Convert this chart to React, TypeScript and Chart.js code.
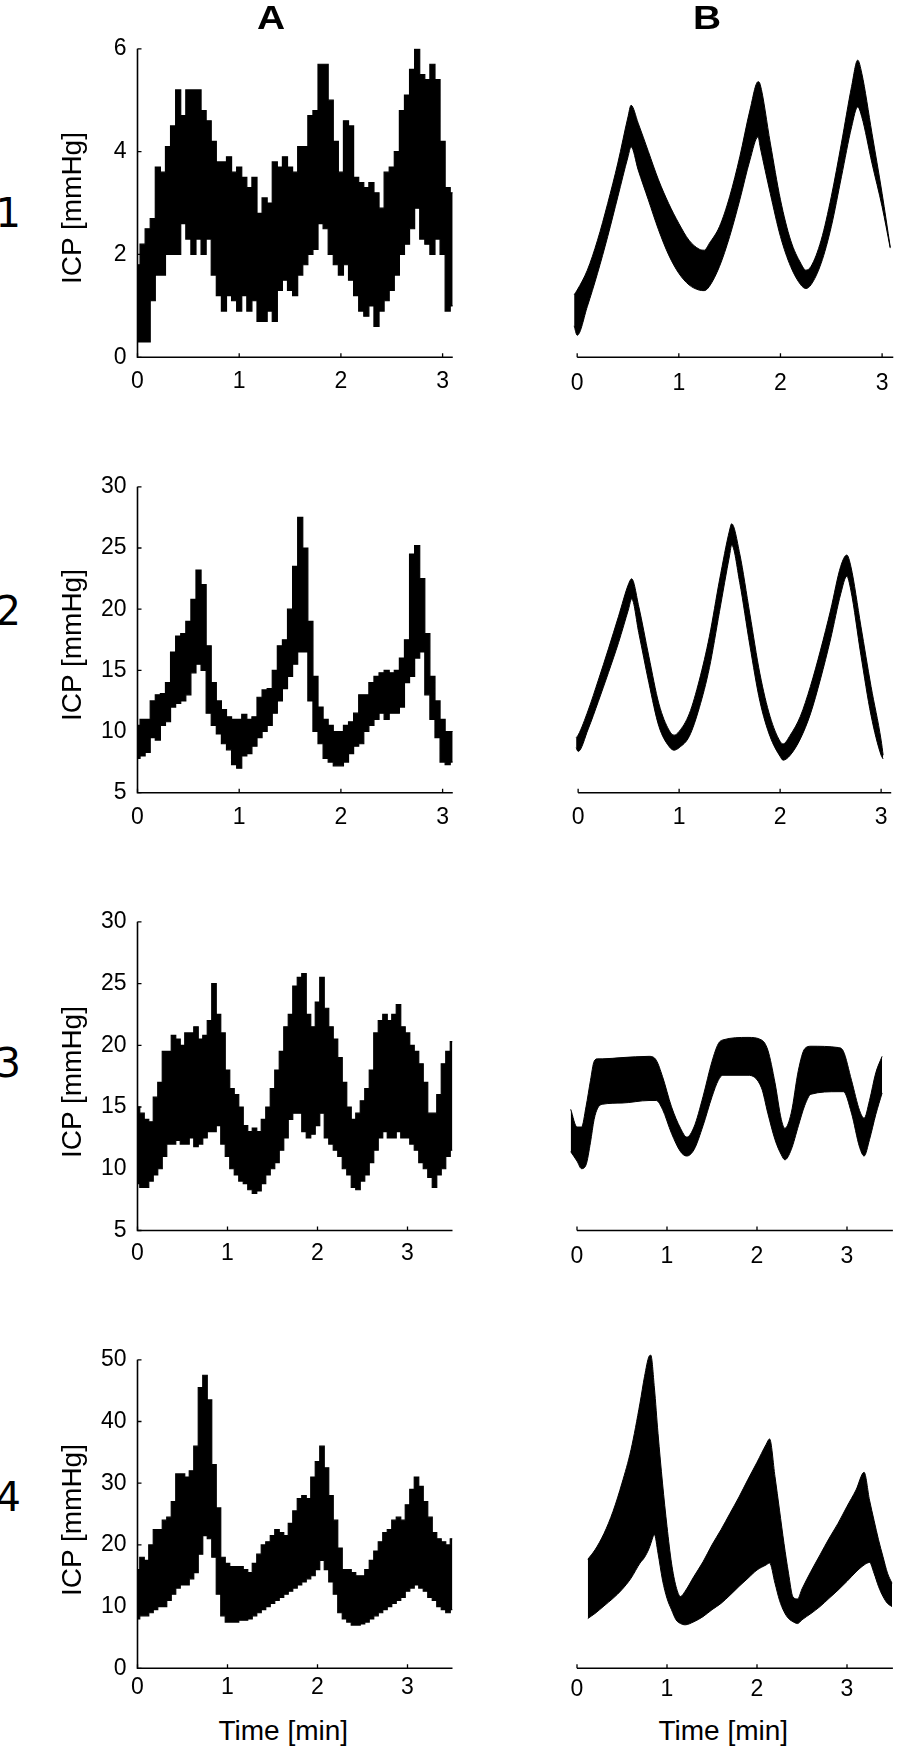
import React, { useEffect, useRef } from "react";
import { Chart, registerables } from "chart.js";

Chart.register(...registerables);

// ---------- time grids (min) ----------
const T31 = [0, 0.05, 0.1, 0.15, 0.2, 0.25, 0.3, 0.35, 0.4, 0.45, 0.5, 0.55, 0.6, 0.65, 0.7, 0.75, 0.8, 0.85, 0.9, 0.95, 1, 1.05, 1.1, 1.15, 1.2, 1.25, 1.3, 1.35, 1.4, 1.45, 1.5, 1.55, 1.6, 1.65, 1.7, 1.75, 1.8, 1.85, 1.9, 1.95, 2, 2.05, 2.1, 2.15, 2.2, 2.25, 2.3, 2.35, 2.4, 2.45, 2.5, 2.55, 2.6, 2.65, 2.7, 2.75, 2.8, 2.85, 2.9, 2.95, 3, 3.05, 3.1];
const T35 = [0, 0.05, 0.1, 0.15, 0.2, 0.25, 0.3, 0.35, 0.4, 0.45, 0.5, 0.55, 0.6, 0.65, 0.7, 0.75, 0.8, 0.85, 0.9, 0.95, 1, 1.05, 1.1, 1.15, 1.2, 1.25, 1.3, 1.35, 1.4, 1.45, 1.5, 1.55, 1.6, 1.65, 1.7, 1.75, 1.8, 1.85, 1.9, 1.95, 2, 2.05, 2.1, 2.15, 2.2, 2.25, 2.3, 2.35, 2.4, 2.45, 2.5, 2.55, 2.6, 2.65, 2.7, 2.75, 2.8, 2.85, 2.9, 2.95, 3, 3.05, 3.1, 3.15, 3.2, 3.25, 3.3, 3.35, 3.4, 3.45, 3.5];

// ---------- column A: measured ICP (upper / lower envelope of the pulse band) ----------
const A1_UPPER = [1.8, 2.2, 2.5, 2.7, 3.7, 3.6, 4.1, 4.5, 5.2, 4.7, 5.2, 5.2, 5.2, 4.8, 4.6, 4.2, 3.8, 3.8, 3.9, 3.6, 3.7, 3.5, 3.3, 3.5, 2.8, 3.1, 3.0, 3.8, 3.7, 3.9, 3.7, 3.6, 4.1, 4.1, 4.7, 4.8, 5.7, 5.7, 5.0, 4.2, 3.6, 4.6, 4.5, 3.5, 3.4, 3.3, 3.4, 3.2, 2.9, 3.6, 3.7, 4.0, 4.8, 5.1, 5.6, 6.0, 5.5, 5.4, 5.7, 5.4, 4.2, 3.3, 3.2];
const A1_LOWER = [0.3, 0.3, 0.3, 1.1, 1.6, 1.6, 2.0, 2.0, 2.0, 2.6, 2.3, 2.0, 2.3, 2.0, 2.3, 1.6, 1.2, 0.9, 1.2, 1.1, 0.9, 1.2, 0.9, 1.1, 0.7, 0.7, 0.9, 0.7, 1.3, 1.5, 1.3, 1.2, 1.6, 1.8, 2.0, 2.1, 2.6, 2.5, 2.0, 1.8, 1.6, 1.8, 1.5, 1.2, 0.9, 0.8, 1.0, 0.6, 0.9, 1.1, 1.3, 1.6, 2.0, 2.2, 2.5, 2.9, 2.3, 2.2, 2.0, 2.3, 2.0, 0.9, 1.0];

const A2_UPPER = [10.5, 11.0, 11.0, 12.5, 13.0, 13.1, 14.0, 16.5, 17.8, 18.0, 19.0, 20.8, 23.2, 22.0, 17.0, 14.0, 12.5, 11.8, 11.2, 11.0, 11.0, 11.4, 11.0, 11.2, 12.8, 13.4, 13.5, 15.0, 17.0, 17.5, 20.0, 23.5, 27.5, 25.0, 19.0, 14.5, 12.0, 11.0, 10.5, 10.0, 10.0, 10.5, 10.8, 11.5, 13.0, 13.0, 14.0, 14.5, 14.8, 15.0, 14.8, 15.0, 16.0, 17.5, 24.5, 25.2, 22.5, 18.0, 14.5, 12.5, 11.0, 10.0, 10.0];
const A2_LOWER = [7.8, 8.0, 8.3, 9.5, 9.3, 10.5, 10.8, 12.0, 12.3, 12.5, 13.0, 14.8, 15.5, 15.0, 11.5, 10.5, 9.8, 9.0, 8.5, 7.3, 7.0, 8.0, 8.2, 8.8, 9.5, 10.0, 10.5, 11.5, 12.5, 13.5, 14.5, 15.5, 16.5, 16.5, 12.5, 10.0, 9.0, 7.8, 7.5, 7.2, 7.2, 7.5, 8.2, 8.8, 9.0, 10.0, 10.5, 11.0, 11.5, 11.0, 11.5, 11.5, 12.0, 14.0, 14.5, 16.0, 16.5, 13.0, 11.0, 9.5, 7.5, 7.3, 7.5];

const A3_UPPER = [15.0, 14.5, 14.0, 13.8, 15.8, 17.0, 19.5, 19.5, 20.8, 20.5, 20.0, 21.0, 21.0, 21.5, 20.5, 20.8, 22.0, 25.0, 22.5, 21.0, 18.0, 16.5, 16.0, 15.0, 13.5, 13.0, 13.3, 13.0, 14.0, 15.0, 16.5, 18.0, 19.5, 21.5, 22.5, 24.8, 25.5, 25.8, 22.5, 21.5, 23.5, 25.5, 23.0, 21.5, 20.5, 19.0, 17.0, 15.0, 14.0, 14.5, 15.5, 16.5, 18.0, 21.0, 22.0, 22.5, 22.0, 22.5, 23.3, 21.5, 21.0, 20.0, 19.5, 18.5, 17.0, 14.5, 14.5, 16.0, 18.5, 19.5, 20.3];
const A3_LOWER = [8.8, 8.5, 8.5, 9.0, 9.5, 10.0, 11.0, 12.0, 12.0, 12.3, 12.0, 12.0, 12.5, 11.8, 12.0, 12.5, 13.0, 13.0, 13.5, 12.0, 11.0, 10.0, 9.5, 9.0, 8.8, 8.3, 8.0, 8.2, 8.8, 9.5, 10.0, 10.5, 11.5, 12.5, 14.0, 14.5, 14.5, 13.0, 12.5, 12.8, 13.5, 14.5, 12.5, 12.0, 11.5, 11.0, 10.0, 9.5, 8.5, 8.3, 9.0, 9.5, 10.5, 11.5, 12.5, 13.0, 12.5, 12.5, 13.0, 12.5, 12.5, 12.0, 11.5, 10.5, 10.0, 9.3, 8.5, 9.5, 10.0, 11.0, 11.5];

const A4_UPPER = [16.0, 18.0, 17.5, 20.0, 22.5, 22.5, 24.0, 24.5, 27.0, 31.5, 31.5, 31.0, 32.0, 36.0, 45.5, 47.5, 43.5, 33.0, 26.0, 18.0, 17.0, 16.5, 16.5, 16.5, 16.0, 15.5, 17.0, 18.5, 20.0, 20.5, 21.5, 22.5, 22.0, 21.5, 23.5, 25.5, 27.5, 28.0, 27.5, 31.0, 33.5, 36.0, 32.5, 28.0, 24.0, 19.5, 16.0, 16.0, 15.5, 15.0, 15.0, 16.0, 17.5, 19.0, 20.5, 22.0, 22.5, 24.0, 24.5, 24.0, 26.5, 29.0, 31.0, 29.5, 27.0, 24.5, 22.0, 21.0, 20.5, 20.0, 21.0];
const A4_LOWER = [8.0, 8.5, 8.5, 9.0, 9.5, 10.0, 10.0, 11.0, 12.0, 13.0, 13.5, 13.5, 14.5, 15.5, 18.5, 21.5, 21.0, 18.0, 12.0, 8.5, 7.5, 7.5, 7.5, 7.8, 7.8, 8.0, 8.5, 9.0, 9.5, 10.0, 10.5, 11.0, 11.5, 12.0, 12.5, 13.0, 13.5, 14.0, 14.5, 15.0, 16.0, 17.5, 16.0, 14.0, 12.0, 9.0, 8.0, 7.5, 7.0, 7.0, 7.2, 7.5, 8.0, 8.5, 9.0, 9.5, 10.0, 10.5, 11.0, 11.5, 12.5, 13.0, 13.5, 13.0, 12.5, 11.5, 11.0, 10.0, 9.5, 9.0, 9.5];

// ---------- column B: simulated ICP band (upper / lower) ----------
const B1_TIME = [-0.03, 0, 0.1, 0.2, 0.3, 0.4, 0.5, 0.53, 0.6, 0.7, 0.8, 0.9, 1.0, 1.1, 1.2, 1.25, 1.3, 1.4, 1.5, 1.6, 1.7, 1.78, 1.8, 1.9, 2.0, 2.1, 2.2, 2.25, 2.3, 2.4, 2.5, 2.6, 2.7, 2.76, 2.8, 2.9, 3.0, 3.08];
const B1_UPPER = [1.19, 1.28, 1.66, 2.23, 2.93, 3.7, 4.58, 4.8, 4.46, 3.92, 3.38, 2.93, 2.55, 2.23, 2.06, 2.04, 2.17, 2.49, 3.06, 3.82, 4.71, 5.25, 5.2, 4.08, 3.0, 2.23, 1.79, 1.66, 1.73, 2.23, 3.06, 4.08, 5.16, 5.66, 5.41, 4.27, 3.12, 2.1];
const B1_LOWER = [0.6, 0.42, 0.97, 1.6, 2.3, 3.06, 3.82, 4.01, 3.57, 3.0, 2.43, 1.95, 1.6, 1.38, 1.28, 1.27, 1.35, 1.73, 2.3, 3.0, 3.76, 4.2, 4.01, 3.12, 2.3, 1.73, 1.38, 1.31, 1.38, 1.79, 2.49, 3.44, 4.39, 4.77, 4.58, 3.7, 2.87, 2.08];

const B2_TIME = [-0.02, 0, 0.1, 0.2, 0.3, 0.4, 0.5, 0.53, 0.6, 0.7, 0.8, 0.9, 0.95, 1.0, 1.1, 1.2, 1.3, 1.4, 1.5, 1.52, 1.6, 1.7, 1.8, 1.9, 2.0, 2.03, 2.1, 2.2, 2.3, 2.4, 2.5, 2.6, 2.66, 2.7, 2.8, 2.9, 3.0, 3.02];
const B2_UPPER = [9.4, 9.6, 11.6, 14.0, 16.5, 19.1, 21.7, 22.1, 19.9, 15.9, 12.1, 10.0, 9.6, 9.9, 11.3, 14.0, 17.5, 22.0, 26.0, 26.5, 24.1, 19.3, 14.5, 11.1, 9.1, 8.9, 9.6, 11.1, 13.5, 16.4, 19.6, 23.1, 24.0, 23.1, 18.3, 13.5, 9.2, 8.0];
const B2_LOWER = [8.6, 8.3, 10.1, 12.3, 14.6, 17.0, 19.7, 20.5, 17.8, 13.8, 10.3, 8.7, 8.4, 8.6, 9.5, 11.8, 15.0, 19.5, 24.0, 24.8, 21.8, 16.8, 12.3, 9.5, 7.9, 7.6, 8.0, 9.3, 11.3, 14.1, 17.3, 20.9, 22.3, 21.2, 16.0, 11.2, 8.0, 7.7];

const B3_TIME = [-0.07, 0, 0.05, 0.1, 0.15, 0.19, 0.23, 0.28, 0.5, 0.8, 0.88, 0.95, 1.05, 1.15, 1.22, 1.3, 1.4, 1.5, 1.57, 1.62, 1.9, 2.05, 2.12, 2.2, 2.27, 2.31, 2.38, 2.46, 2.53, 2.6, 2.9, 2.96, 3.05, 3.14, 3.19, 3.25, 3.32, 3.39];
const B3_UPPER = [14.6, 13.2, 13.2, 14.8, 16.9, 18.4, 18.6, 18.6, 18.7, 18.8, 18.5, 17.2, 14.8, 13.1, 12.4, 13.2, 15.6, 18.4, 19.8, 20.1, 20.3, 20.1, 19.3, 16.7, 13.8, 13.1, 14.3, 17.7, 19.4, 19.6, 19.5, 19.2, 16.9, 14.5, 13.9, 15.3, 17.5, 18.8];
const B3_LOWER = [11.25, 10.5, 9.9, 10.2, 12.0, 13.8, 14.7, 15.0, 15.1, 15.3, 15.3, 14.6, 12.7, 11.25, 10.9, 11.4, 13.3, 15.6, 16.9, 17.3, 17.3, 16.3, 14.3, 12.2, 11.0, 10.6, 11.4, 13.3, 14.9, 15.8, 16.0, 16.0, 14.3, 11.6, 10.9, 12.2, 14.2, 15.9];

const B4_TIME = [0.12, 0.2, 0.3, 0.4, 0.5, 0.6, 0.7, 0.75, 0.8, 0.82, 0.86, 0.9, 0.95, 1.0, 1.05, 1.1, 1.15, 1.2, 1.3, 1.4, 1.5, 1.6, 1.7, 1.8, 1.9, 2.0, 2.1, 2.14, 2.2, 2.25, 2.3, 2.35, 2.4, 2.45, 2.5, 2.6, 2.7, 2.8, 2.9, 3.0, 3.1, 3.19, 3.25, 3.3, 3.35, 3.4, 3.45, 3.5];
const B4_UPPER = [17.3, 18.8, 21.4, 24.9, 29.4, 34.7, 42.1, 46.3, 49.5, 49.7, 44.5, 37.3, 29.4, 22.5, 16.7, 13.0, 11.4, 12.2, 14.6, 16.9, 19.6, 22.0, 24.6, 27.2, 30.0, 32.7, 35.5, 36.4, 30.4, 25.1, 19.8, 15.1, 11.3, 11.0, 12.6, 15.4, 18.0, 20.6, 23.0, 25.7, 28.3, 31.1, 26.7, 23.5, 20.4, 17.7, 15.1, 13.5];
const B4_LOWER = [7.9, 8.7, 9.9, 11.1, 12.5, 14.3, 16.7, 17.6, 19.0, 19.8, 21.2, 18.3, 14.0, 11.1, 9.3, 7.7, 7.1, 6.9, 7.4, 8.2, 9.3, 10.3, 11.6, 13.0, 14.3, 15.6, 16.4, 16.7, 13.5, 10.8, 9.0, 7.9, 7.4, 7.1, 7.7, 8.7, 9.8, 11.1, 12.4, 13.8, 15.3, 16.4, 16.8, 15.1, 13.0, 11.4, 10.3, 9.8];

// ---------- ticks & labels ----------
const X_TICKS = [0, 1, 2, 3];
const Y_TICKS_1 = [0, 2, 4, 6];
const Y_TICKS_2 = [5, 10, 15, 20, 25, 30];
const Y_TICKS_3 = [5, 10, 15, 20, 25, 30];
const Y_TICKS_4 = [0, 10, 20, 30, 40, 50];
const COLUMN_TITLES = ["A", "B"];
const ROW_LABELS = ["1", "2", "3", "4"];
const Y_TITLE = "ICP [mmHg]";
const X_TITLE = "Time [min]";

const FONT = "'Liberation Sans', Arial, Helvetica, sans-serif";

type Panel = {
  t: number[]; up: number[]; lo: number[]; smooth: boolean; showY: boolean;
  yTicks: number[]; ymin: number; ymax: number;
  zero: number; ppm: number; xmin: number; xmax: number;
  top: number; bottom: number; gap: number;
};

const PANELS: Panel[] = [
  { t: T31, up: A1_UPPER, lo: A1_LOWER, smooth: false, showY: true, yTicks: Y_TICKS_1, ymin: 0, ymax: 6, zero: 137.5, ppm: 101.7, xmin: 0, xmax: 3.1, top: 42.3, bottom: 357.3, gap: 16 },
  { t: B1_TIME, up: B1_UPPER, lo: B1_LOWER, smooth: true, showY: false, yTicks: Y_TICKS_1, ymin: 0, ymax: 6, zero: 577, ppm: 101.7, xmin: -0.04, xmax: 3.11, top: 42.3, bottom: 357.3, gap: 18 },
  { t: T31, up: A2_UPPER, lo: A2_LOWER, smooth: false, showY: true, yTicks: Y_TICKS_2, ymin: 5, ymax: 30, zero: 137.5, ppm: 101.7, xmin: 0, xmax: 3.1, top: 480, bottom: 792.7, gap: 17 },
  { t: B2_TIME, up: B2_UPPER, lo: B2_LOWER, smooth: true, showY: false, yTicks: Y_TICKS_2, ymin: 5, ymax: 30, zero: 577.5, ppm: 101.2, xmin: -0.03, xmax: 3.1, top: 480, bottom: 792.7, gap: 17 },
  { t: T35, up: A3_UPPER, lo: A3_LOWER, smooth: false, showY: true, yTicks: Y_TICKS_3, ymin: 5, ymax: 30, zero: 137.5, ppm: 90, xmin: 0, xmax: 3.5, top: 915, bottom: 1230.5, gap: 15 },
  { t: B3_TIME, up: B3_UPPER, lo: B3_LOWER, smooth: true, showY: false, yTicks: Y_TICKS_3, ymin: 5, ymax: 30, zero: 577, ppm: 90, xmin: -0.08, xmax: 3.51, top: 915, bottom: 1230.5, gap: 18 },
  { t: T35, up: A4_UPPER, lo: A4_LOWER, smooth: false, showY: true, yTicks: Y_TICKS_4, ymin: 0, ymax: 50, zero: 137.5, ppm: 90, xmin: 0, xmax: 3.5, top: 1353.3, bottom: 1668.3, gap: 11 },
  { t: B4_TIME, up: B4_UPPER, lo: B4_LOWER, smooth: true, showY: false, yTicks: Y_TICKS_4, ymin: 0, ymax: 50, zero: 577, ppm: 90, xmin: 0, xmax: 3.51, top: 1353.3, bottom: 1668.3, gap: 13 },
];

function geometry(p: Panel) {
  const chartLeft = p.zero + p.xmin * p.ppm;
  const chartRight = p.zero + p.xmax * p.ppm;
  const padL = p.showY ? 72 : 14;
  const cLeft = Math.floor(chartLeft - padL);
  const cRight = Math.ceil(chartRight + 14);
  const cTop = Math.floor(p.top - 18);
  const cBottom = Math.ceil(p.bottom + 46);
  return {
    cLeft, cTop, W: cRight - cLeft, H: cBottom - cTop,
    yW: chartLeft - cLeft, padTop: p.top - cTop, padRight: cRight - chartRight, xH: cBottom - p.bottom,
  };
}

function PanelChart({ p }: { p: Panel }) {
  const ref = useRef<HTMLCanvasElement>(null);
  const g = geometry(p);
  useEffect(() => {
    const canvas = ref.current;
    if (!canvas) return;
    const axesPlugin = {
      id: "axesLines",
      afterDraw(chart: any) {
        const { ctx, chartArea } = chart;
        const xs = chart.scales.x;
        const ys = chart.scales.y;
        const L = 4;
        ctx.save();
        ctx.strokeStyle = "#000";
        ctx.lineWidth = 1.6;
        ctx.lineCap = "butt";
        ctx.beginPath();
        const x0 = xs.getPixelForValue(0);
        if (p.showY) {
          ctx.moveTo(chartArea.left, chartArea.top);
          ctx.lineTo(chartArea.left, chartArea.bottom);
        } else {
          ctx.moveTo(x0, chartArea.bottom);
        }
        ctx.lineTo(chartArea.right, chartArea.bottom);
        ctx.stroke();
        ctx.lineWidth = 1.3;
        ctx.beginPath();
        for (const v of X_TICKS) {
          const px = xs.getPixelForValue(v);
          ctx.moveTo(px, chartArea.bottom);
          ctx.lineTo(px, chartArea.bottom - L);
        }
        if (p.showY) {
          for (const v of p.yTicks) {
            const py = ys.getPixelForValue(v);
            ctx.moveTo(chartArea.left, py);
            ctx.lineTo(chartArea.left + L, py);
          }
        }
        ctx.stroke();
        ctx.restore();
      },
    };
    const lower = p.t.map((x, i) => ({ x, y: p.lo[i] }));
    const upper = p.t.map((x, i) => ({ x, y: p.up[i] }));
    const common = {
      borderColor: "#000",
      borderWidth: p.smooth ? 1 : 1.2,
      pointRadius: 0,
      tension: 0,
      stepped: p.smooth ? false : "middle",
      cubicInterpolationMode: p.smooth ? "monotone" : "default",
    };
    const chart = new Chart(canvas, {
      type: "line",
      data: {
        datasets: [
          { ...common, data: lower, fill: false, backgroundColor: "#000" },
          { ...common, data: upper, fill: "-1", backgroundColor: "#000" },
        ],
      } as any,
      options: {
        responsive: false,
        maintainAspectRatio: false,
        animation: false,
        devicePixelRatio: 1,
        events: [],
        layout: { padding: { left: 0, top: g.padTop, right: g.padRight, bottom: 0 } },
        plugins: { legend: { display: false }, tooltip: { enabled: false } },
        scales: {
          x: {
            type: "linear",
            min: p.xmin,
            max: p.xmax,
            grid: { display: false, drawTicks: false, tickLength: 0 },
            border: { display: false },
            ticks: { color: "#000", font: { family: FONT, size: 23 }, padding: p.gap - 5.4, maxRotation: 0, autoSkip: false },
            afterBuildTicks: (s: any) => { s.ticks = X_TICKS.map((v) => ({ value: v })); },
            afterFit: (s: any) => { s.height = g.xH; },
          },
          y: {
            type: "linear",
            min: p.ymin,
            max: p.ymax,
            grid: { display: false, drawTicks: false, tickLength: 0 },
            border: { display: false },
            ticks: { display: p.showY, color: "#000", font: { family: FONT, size: 23 }, padding: 11 },
            afterBuildTicks: (s: any) => { s.ticks = p.yTicks.map((v) => ({ value: v })); },
            afterFit: (s: any) => { s.width = g.yW; },
          },
        },
      } as any,
      plugins: [axesPlugin],
    });
    return () => chart.destroy();
  }, []);
  return (
    <canvas
      ref={ref}
      width={g.W}
      height={g.H}
      style={{ position: "absolute", left: g.cLeft, top: g.cTop, width: g.W, height: g.H }}
    />
  );
}

const ROW_LABEL_Y = [212.5, 610.7, 1062.7, 1497];
const ROW_LABEL_SIZE = [40, 40, 40, 40];
const Y_TITLE_Y = [208.3, 645, 1082, 1520];

function Label({ x, y, text, style, rotate }: { x: number; y: number; text: string; style: React.CSSProperties; rotate?: boolean }) {
  return (
    <div
      style={{
        position: "absolute",
        left: x,
        top: y,
        lineHeight: 1,
        whiteSpace: "nowrap",
        color: "#000",
        transform: `translate(-50%, -50%)${rotate ? " rotate(-90deg)" : ""}`,
        ...style,
      }}
    >
      {text}
    </div>
  );
}

export default function App() {
  return (
    <div style={{ position: "absolute", left: 0, top: 0, width: 898, height: 1749, background: "#fff", overflow: "hidden" }}>
      {PANELS.map((p, i) => (
        <PanelChart key={i} p={p} />
      ))}
      <Label x={270.8} y={16.7} text={COLUMN_TITLES[0]} style={{ fontFamily: FONT, fontWeight: 700, fontSize: 33, transform: "translate(-50%, -50%) scaleX(1.18)" }} />
      <Label x={706.7} y={16.7} text={COLUMN_TITLES[1]} style={{ fontFamily: FONT, fontWeight: 700, fontSize: 33, transform: "translate(-50%, -50%) scaleX(1.18)" }} />
      {ROW_LABELS.map((t, i) => (
        <div
          key={t}
          style={{
            position: "absolute", left: -24, width: 45, top: ROW_LABEL_Y[i], transform: "translateY(-50%)",
            textAlign: "right", fontFamily: "'DejaVu Sans', sans-serif", fontSize: ROW_LABEL_SIZE[i], lineHeight: 1, color: "#000",
          }}
        >
          {t}
        </div>
      ))}
      {Y_TITLE_Y.map((y, i) => (
        <Label key={i} x={72} y={y} text={Y_TITLE} rotate style={{ fontFamily: FONT, fontSize: 28 }} />
      ))}
      <Label x={283.3} y={1731} text={X_TITLE} style={{ fontFamily: FONT, fontSize: 28 }} />
      <Label x={723.3} y={1730.5} text={X_TITLE} style={{ fontFamily: FONT, fontSize: 28 }} />
    </div>
  );
}
